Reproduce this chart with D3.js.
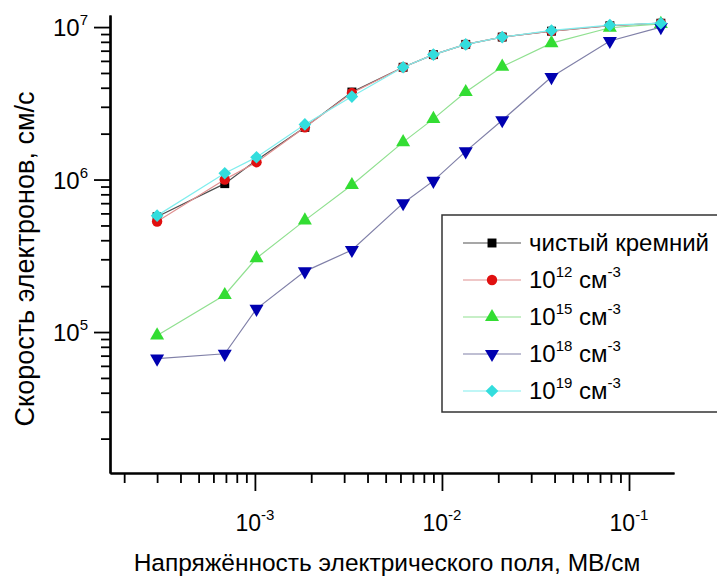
<!DOCTYPE html>
<html>
<head>
<meta charset="utf-8">
<script src="https://cdn.jsdelivr.net/npm/d3@7"></script>
<style>
  body { margin: 0; background: #fff; }
  text { font-family: "Liberation Sans", Arial, sans-serif; fill: #000; }
</style>
</head>
<body>
<div id="chart"></div>
<script>
// field strength, MV/cm
var fieldValues = [3.0e-4, 6.9e-4, 1.02e-3, 1.85e-3, 3.3e-3, 6.2e-3, 9.0e-3, 1.34e-2, 2.1e-2, 3.85e-2, 7.9e-2, 0.148];

// electron velocity, cm/s
var pureSi = [5.7e5, 9.4e5, 1.34e6, 2.2e6, 3.75e6, 5.45e6, 6.6e6, 7.7e6, 8.6e6, 9.4e6, 1.02e7, 1.06e7];
var dop12 = [5.3e5, 1.0e6, 1.3e6, 2.2e6, 3.7e6, 5.45e6, 6.6e6, 7.7e6, 8.6e6, 9.4e6, 1.02e7, 1.06e7];
var dop15 = [9.5e4, 1.75e5, 3.05e5, 5.4e5, 9.2e5, 1.76e6, 2.5e6, 3.75e6, 5.5e6, 7.85e6, 9.9e6, 1.05e7];
var dop18 = [6.7e4, 7.2e4, 1.42e5, 2.5e5, 3.45e5, 7.0e5, 9.8e5, 1.53e6, 2.45e6, 4.7e6, 8.1e6, 1.0e7];
var dop19 = [5.8e5, 1.1e6, 1.4e6, 2.3e6, 3.5e6, 5.45e6, 6.6e6, 7.7e6, 8.6e6, 9.5e6, 1.03e7, 1.06e7];

var legendNames = ["чистый кремний", "12", "15", "18", "19"];
var xMajorTicks = [1e-3, 1e-2, 1e-1];
var xMajorLabels = ["-3", "-2", "-1"];
var yMajorTicks = [1e5, 1e6, 1e7];
var yMajorLabels = ["5", "6", "7"];

var width = 717, height = 577;

var x = d3.scaleLog().domain([1.68e-4, 0.174]).range([110, 674]);
var y = d3.scaleLog().domain([1.19e4, 1.2e7]).range([473, 15]);

var svg = d3.select("#chart").append("svg")
    .attr("width", width)
    .attr("height", height);

// minor ticks
var xMinor = [], yMinor = [];
[1e-4, 1e-3, 1e-2].forEach(function(d) {
  for (var k = 2; k <= 9; k++) if (d * k >= 1.68e-4 && d * k <= 0.174) xMinor.push(d * k);
});
[1e4, 1e5, 1e6].forEach(function(d) {
  for (var k = 2; k <= 9; k++) yMinor.push(d * k);
});

svg.append("g").attr("transform", "translate(0,473)")
    .call(d3.axisBottom(x).tickValues(xMinor).tickSize(10).tickSizeOuter(0).tickFormat(""));
svg.append("g").attr("transform", "translate(0,473)")
    .call(d3.axisBottom(x).tickValues(xMajorTicks).tickSize(18).tickSizeOuter(0).tickFormat(""));
svg.append("g").attr("transform", "translate(110,0)")
    .call(d3.axisLeft(y).tickValues(yMinor).tickSize(9).tickSizeOuter(0).tickFormat(""));
svg.append("g").attr("transform", "translate(110,0)")
    .call(d3.axisLeft(y).tickValues(yMajorTicks).tickSize(16).tickSizeOuter(0).tickFormat(""));

svg.selectAll(".domain").attr("stroke", "#000").attr("stroke-width", 2.2);
svg.selectAll(".tick line").attr("stroke", "#000").attr("stroke-width", 1.8);

// tick labels with superscripts
var xl = svg.selectAll(".xlab").data(xMajorTicks).enter().append("text")
    .attr("class", "xlab")
    .attr("x", function(d) { return x(d); })
    .attr("y", 531)
    .attr("text-anchor", "middle")
    .style("font-size", "23px");
xl.append("tspan").text("10");
xl.append("tspan").attr("dy", -11).style("font-size", "15px")
    .text(function(d, i) { return xMajorLabels[i]; });

var yl = svg.selectAll(".ylab").data(yMajorTicks).enter().append("text")
    .attr("class", "ylab")
    .attr("x", 88)
    .attr("y", function(d) { return y(d) + 9; })
    .attr("text-anchor", "end")
    .style("font-size", "24px");
yl.append("tspan").text("10");
yl.append("tspan").attr("dy", -11).style("font-size", "15px")
    .text(function(d, i) { return yMajorLabels[i]; });

// axis titles
svg.append("text")
    .attr("x", 387).attr("y", 571)
    .attr("text-anchor", "middle")
    .style("font-size", "24.5px")
    .text("Напряжённость электрического поля, МВ/см");

svg.append("text")
    .attr("transform", "translate(34,259) rotate(-90)")
    .attr("text-anchor", "middle")
    .style("font-size", "27px")
    .text("Скорость электронов, см/с");

// series
var series = [
  {values: pureSi, line: "#505050", fill: "#000000", symbol: d3.symbolSquare, size: 80, rot: 0},
  {values: dop12, line: "#e09090", fill: "#e01010", symbol: d3.symbolCircle, size: 85, rot: 0},
  {values: dop15, line: "#90e090", fill: "#33dd33", symbol: d3.symbolTriangle, size: 85, rot: 0},
  {values: dop18, line: "#8080a8", fill: "#0000b0", symbol: d3.symbolTriangle, size: 85, rot: 180},
  {values: dop19, line: "#80eeee", fill: "#33dddd", symbol: d3.symbolSquare, size: 80, rot: 45}
];

var line = d3.line()
    .x(function(d) { return x(d[0]); })
    .y(function(d) { return y(d[1]); });

series.forEach(function(s) {
  var pts = fieldValues.map(function(f, i) { return [f, s.values[i]]; });
  svg.append("path")
      .attr("d", line(pts))
      .attr("fill", "none")
      .attr("stroke", s.line)
      .attr("stroke-width", 1.2);
  svg.selectAll(null).data(pts).enter().append("path")
      .attr("d", d3.symbol().type(s.symbol).size(s.size))
      .attr("transform", function(d) {
        return "translate(" + x(d[0]) + "," + y(d[1]) + ") rotate(" + s.rot + ")";
      })
      .attr("fill", s.fill);
});

// legend
var legend = svg.append("g");
legend.append("rect")
    .attr("x", 442).attr("y", 215)
    .attr("width", 290).attr("height", 197)
    .attr("fill", "#fff")
    .attr("stroke", "#333")
    .attr("stroke-width", 1.5);

series.forEach(function(s, i) {
  var ly = 243 + i * 37;
  legend.append("line")
      .attr("x1", 463).attr("x2", 521)
      .attr("y1", ly).attr("y2", ly)
      .attr("stroke", s.line).attr("stroke-width", 1.2);
  legend.append("path")
      .attr("d", d3.symbol().type(s.symbol).size(s.size))
      .attr("transform", "translate(492," + ly + ") rotate(" + s.rot + ")")
      .attr("fill", s.fill);
  var t = legend.append("text")
      .attr("x", 529).attr("y", ly + 8)
      .style("font-size", "24px");
  if (i === 0) {
    t.text(legendNames[0]);
  } else {
    t.append("tspan").text("10");
    t.append("tspan").attr("dy", -11).style("font-size", "15px").text(legendNames[i]);
    t.append("tspan").attr("dy", 11).text(" см");
    t.append("tspan").attr("dy", -11).style("font-size", "15px").text("-3");
  }
});
</script>
</body>
</html>
